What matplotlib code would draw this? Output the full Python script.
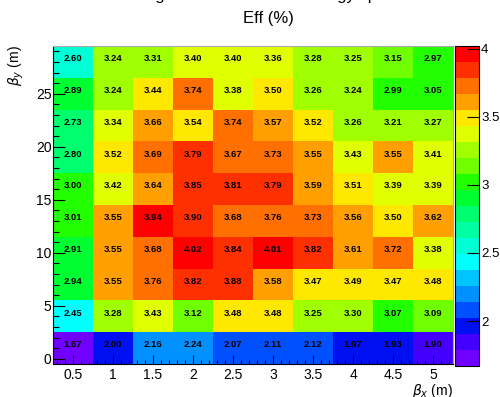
import numpy as np
import matplotlib
matplotlib.use("Agg")
import matplotlib.pyplot as plt
from matplotlib.colors import ListedColormap, BoundaryNorm
from matplotlib.ticker import MultipleLocator, FormatStrFormatter

plt.rcParams["font.family"] = ["Liberation Sans", "DejaVu Sans"]

# bin centres
beta_x = [0.5, 1.0, 1.5, 2.0, 2.5, 3.0, 3.5, 4.0, 4.5, 5.0]
beta_y = [1, 4, 7, 10, 13, 16, 19, 22, 25, 28]

# Eff (%) per row, bottom (beta_y = 1) to top (beta_y = 28)
eff_y1 = [1.67, 2.00, 2.16, 2.24, 2.07, 2.11, 2.12, 1.97, 1.93, 1.90]
eff_y4 = [2.45, 3.28, 3.43, 3.12, 3.48, 3.48, 3.25, 3.30, 3.07, 3.09]
eff_y7 = [2.94, 3.55, 3.76, 3.82, 3.88, 3.58, 3.47, 3.49, 3.47, 3.48]
eff_y10 = [2.91, 3.55, 3.68, 4.02, 3.84, 4.01, 3.82, 3.61, 3.72, 3.38]
eff_y13 = [3.01, 3.55, 3.94, 3.90, 3.68, 3.76, 3.73, 3.56, 3.50, 3.62]
eff_y16 = [3.00, 3.42, 3.64, 3.85, 3.81, 3.79, 3.59, 3.51, 3.39, 3.39]
eff_y19 = [2.80, 3.52, 3.69, 3.79, 3.67, 3.73, 3.55, 3.43, 3.55, 3.41]
eff_y22 = [2.73, 3.34, 3.66, 3.54, 3.74, 3.57, 3.52, 3.26, 3.21, 3.27]
eff_y25 = [2.89, 3.24, 3.44, 3.74, 3.38, 3.50, 3.26, 3.24, 2.99, 3.05]
eff_y28 = [2.60, 3.24, 3.31, 3.40, 3.40, 3.36, 3.28, 3.25, 3.15, 2.97]

cbar_ticks = [2, 2.5, 3, 3.5, 4]

# ROOT style palette, 20 contour bands
palette = ["#7000ff", "#4400ff", "#0010f2", "#0050ff", "#0090ff",
           "#00c4ff", "#00ffff", "#00ffd4", "#00ffa0", "#00ff6c",
           "#00ff30", "#22ff00", "#70ff00", "#a0ff00", "#e0ff00",
           "#ffe800", "#ffa000", "#ff7000", "#ff3000", "#ff0000"]

z = np.array([eff_y1, eff_y4, eff_y7, eff_y10, eff_y13,
              eff_y16, eff_y19, eff_y22, eff_y25, eff_y28])
xs = np.array(beta_x)
ys = np.array(beta_y, dtype=float)
xe = np.append(xs - 0.25, xs[-1] + 0.25)
ye = np.append(ys - 1.5, ys[-1] + 1.5)

cmap = ListedColormap(palette)
cmap.set_over(palette[-1])
cmap.set_under(palette[0])
levels = np.linspace(z.min(), z.max(), len(palette) + 1)
norm = BoundaryNorm(levels, cmap.N)

fig = plt.figure(figsize=(5.0, 3.97), dpi=100)
ax = fig.add_axes([53 / 500, 1 - 364 / 397, 400 / 500, 318 / 397])
mesh = ax.pcolormesh(xe, ye, z, cmap=cmap, norm=norm)

for j, yv in enumerate(ys):
    for i, xv in enumerate(xs):
        ax.text(xv, yv + 0.3, f"{z[j, i]:.2f}", ha="center", va="center",
                fontsize=6.8, fontweight="bold", color="black")

ax.set_xlim(xe[0], xe[-1])
ax.set_ylim(ye[0], ye[-1])
ax.xaxis.set_major_locator(MultipleLocator(0.5))
ax.xaxis.set_major_formatter(FormatStrFormatter("%g"))
ax.xaxis.set_minor_locator(MultipleLocator(0.1))
ax.yaxis.set_major_locator(MultipleLocator(5))
ax.yaxis.set_minor_locator(MultipleLocator(1))
ax.tick_params(axis="x", which="major", direction="in", length=6.5, width=0.8,
               labelsize=10, pad=3)
ax.tick_params(axis="x", which="minor", direction="in", length=3.2, width=0.8)
ax.tick_params(axis="y", which="major", direction="in", length=8.5, width=0.8,
               labelsize=10, pad=1)
ax.tick_params(axis="y", which="minor", direction="in", length=4.3, width=0.8)
for s in ["top", "right"]:
    ax.spines[s].set_color("#aaaaaa")
    ax.spines[s].set_linewidth(0.8)
for s in ["bottom", "left"]:
    ax.spines[s].set_linewidth(0.8)

# colour scale
cax = fig.add_axes([455 / 500, 1 - 366 / 397, 24 / 500, 320 / 397])
cb = fig.colorbar(mesh, cax=cax, spacing="proportional")
cb.set_ticks(cbar_ticks)
cb.set_ticklabels(["2", "2.5", "3", "3.5", "4"])
cb.outline.set_linewidth(0.8)
cax.tick_params(direction="in", length=8.5, width=0.8, labelsize=9.5, pad=1.5)
cax.minorticks_off()

# axis titles, ROOT places them at the end of the axes
fig.text(453 / 500, 1 - 391 / 397, r"$\beta_x$ (m)", ha="right", va="center",
         fontsize=10, math_fontfamily="dejavusans")
fig.text(16 / 500, 1 - 45 / 397, r"$\beta_y$ (m)", ha="center", va="top",
         rotation=90, fontsize=10, math_fontfamily="dejavusans")

fig.text(268 / 500, 1 - 19 / 397, "Eff (%)", ha="center", va="center",
         fontsize=12)
# main title, mostly above the canvas
fig.text(131 / 500, 1.0, "Large beam with wider energy spread",
         ha="left", va="baseline", fontsize=12)

fig.savefig("out.png", dpi=100)
